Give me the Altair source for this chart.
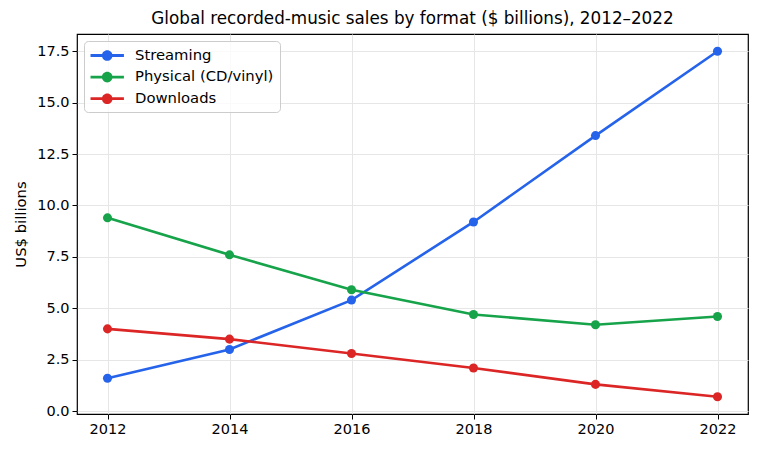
import altair as alt
import pandas as pd

years = [2012, 2014, 2016, 2018, 2020, 2022]
streaming = [1.6, 3.0, 5.4, 9.2, 13.4, 17.5]
physical = [9.4, 7.6, 5.9, 4.7, 4.2, 4.6]
downloads = [4.0, 3.5, 2.8, 2.1, 1.3, 0.7]
series_names = ["Streaming", "Physical (CD/vinyl)", "Downloads"]
series_colors = ["#2563eb", "#16a34a", "#dc2626"]

rows = []
for name, vals in zip(series_names, [streaming, physical, downloads]):
    for yr, v in zip(years, vals):
        rows.append({"year": yr, "value": v, "format": name})
df = pd.DataFrame(rows)

FONT = "DejaVu Sans"
# legend glyph: a short line with a dot in its middle (units of sqrt(size)/2)
legend_path = ("M-0.96,-0.17H3.06V0.17H-0.96Z "
               "M1.69,0A0.64,0.64 0 1,1 0.41,0A0.64,0.64 0 1,1 1.69,0Z")

color = alt.Color(
    "format:N",
    scale=alt.Scale(domain=series_names, range=series_colors),
    sort=series_names,
    legend=alt.Legend(
        title=None,
        orient="top-left",
        offset=7,
        symbolType=legend_path,
        symbolSize=276,
        symbolStrokeWidth=0,
        symbolOpacity=1,
        labelFontSize=14.8,
        labelFont=FONT,
        labelColor="#000000",
        labelOffset=28,
        rowPadding=5.6,
        padding=6,
        fillColor="rgba(255,255,255,0.8)",
        strokeColor="#cccccc",
        cornerRadius=4,
    ),
)

x = alt.X(
    "year:Q",
    scale=alt.Scale(domain=[2011.5, 2022.5], nice=False, zero=False),
    axis=alt.Axis(values=years, format="d", title=None, grid=True),
)
y = alt.Y(
    "value:Q",
    scale=alt.Scale(domain=[-0.14, 18.34], nice=False, zero=False),
    axis=alt.Axis(values=[0, 2.5, 5, 7.5, 10, 12.5, 15, 17.5], format=".1f",
                  title="US$ billions", grid=True),
)

base = alt.Chart(df)
lines = base.mark_line(strokeWidth=2.6).encode(
    x=x, y=y, color=color, detail="format:N", order="year:Q"
)
points = base.mark_circle(size=82, opacity=1).encode(
    x=x, y=y, color=color
)

chart = alt.layer(lines, points).properties(
    width=671,
    height=380,
    title=alt.Title(
        "Global recorded-music sales by format ($ billions), 2012–2022",
        fontSize=16.8, font=FONT, fontWeight="normal", color="#000000",
        anchor="middle", offset=6,
    ),
    autosize=alt.AutoSizeParams(type="none"),
    padding={"left": 77, "top": 34, "right": 10, "bottom": 37},
).configure_view(
    stroke="#000000", strokeWidth=1.2
).configure_axis(
    labelFont=FONT, labelFontSize=14.5, labelColor="#000000",
    titleFont=FONT, titleFontSize=14.8, titleColor="#000000", titleFontWeight="normal",
    domain=False, tickColor="#000000", tickSize=5, tickWidth=1,
    labelPadding=3, gridColor="#e6e6e6", gridWidth=1,
).configure_axisY(
    titlePadding=8
)

chart.save("out.html", embed_options={"renderer": "svg", "actions": False})
